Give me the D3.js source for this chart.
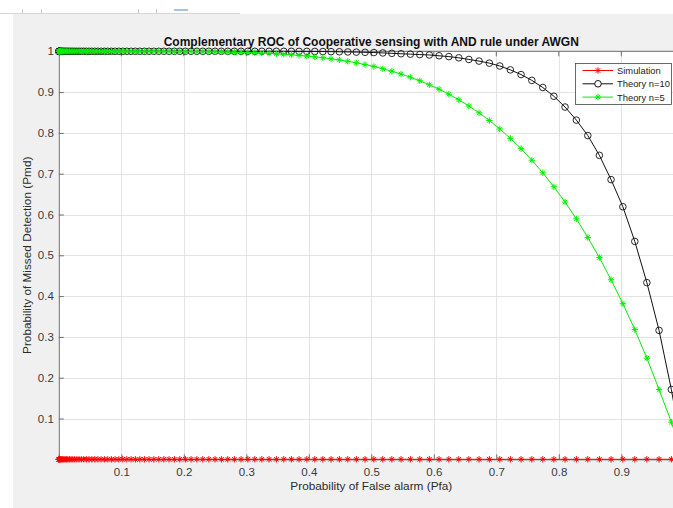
<!DOCTYPE html>
<html><head><meta charset="utf-8">
<script src="https://cdn.jsdelivr.net/npm/d3@7"></script>
<style>
html,body{margin:0;padding:0;background:#fff;overflow:hidden;}
svg{display:block;font-family:"Liberation Sans",Arial,Helvetica,sans-serif;}
</style>
</head><body>
<svg id="chart" width="673" height="508"></svg>
<script>
// ---- data ----
const pfa = [0,0.0001,0.0004,0.0009,0.0016,0.0025,0.0036,0.0049,0.0064,0.0081,
0.01,0.0121,0.0144,0.0169,0.0196,0.0225,0.0256,0.0289,0.0324,0.0361,
0.04,0.0441,0.0484,0.0529,0.0576,0.0625,0.0676,0.0729,0.0784,0.0841,
0.09,0.0961,0.1024,0.1089,0.1156,0.1225,0.1296,0.1369,0.1444,0.1521,
0.16,0.1681,0.1764,0.1849,0.1936,0.2025,0.2116,0.2209,0.2304,0.2401,
0.25,0.2601,0.2704,0.2809,0.2916,0.3025,0.3136,0.3249,0.3364,0.3481,
0.36,0.3721,0.3844,0.3969,0.4096,0.4225,0.4356,0.4489,0.4624,0.4761,
0.49,0.5041,0.5184,0.5329,0.5476,0.5625,0.5776,0.5929,0.6084,0.6241,
0.64,0.6561,0.6724,0.6889,0.7056,0.7225,0.7396,0.7569,0.7744,0.7921,
0.81,0.8281,0.8464,0.8649,0.8836,0.9025,0.9216,0.9409,0.9604,0.9801,1];

const simulation = [0,0,0,0,0,0,0,0,0,0, 0,0,0,0,0,0,0,0,0,0,
0,0,0,0,0,0,0,0,0,0, 0,0,0,0,0,0,0,0,0,0,
0,0,0,0,0,0,0,0,0,0, 0,0,0,0,0,0,0,0,0,0,
0,0,0,0,0,0,0,0,0,0, 0,0,0,0,0,0,0,0,0,0,
0,0,0,0,0,0,0,0,0,0, 0,0,0,0,0,0,0,0,0,0,0];

const theoryN10 = [1,1,1,1,1,1,1,1,1,1, 1,1,1,1,1,1,1,1,1,1,
1,1,1,1,1,1,1,1,1,1, 1,1,1,1,1,1,1,1,1,1,
1,1,1,1,1,1,1,1,1,1, 1,1,1,1,1,1,1,1,1,1,
0.9999,0.9999,0.9998,0.9998,0.9996,0.9994,0.9991,0.9988,0.9984,0.998,
0.9975,0.997,0.996,0.995,0.994,0.993,0.992,0.991,0.989,0.987,
0.984,0.980,0.976,0.971,0.964,0.9545,0.943,0.9287,0.9113,0.8898,
0.8634,0.8314,0.7935,0.7450,0.6855,0.6190,0.5340,0.4330,0.3160,0.1710,0];

const theoryN5 = [1,1,1,1,1,1,1,1,1,1, 1,1,1,1,1,1,1,1,1,1,
1,1,1,1,1,1,1,1,1,1, 1,1,1,1,1,1,1,1,1,1,
0.9999,0.9998,0.9998,0.9997,0.9997,0.9996,0.9995,0.9993,0.9992,0.999,
0.9988,0.9985,0.9982,0.9979,0.9974,0.9969,0.9963,0.9956,0.9948,0.9939,
0.9928,0.9915,0.99,0.9884,0.9864,0.9842,0.9817,0.9788,0.9755,0.9717,
0.9675,0.9627,0.9572,0.9511,0.9442,0.9365,0.9277,0.9179,0.907,0.8948,
0.8812,0.866,0.8492,0.8305,0.8095,0.7867,0.7613,0.733,0.7021,0.668,
0.6305,0.5893,0.5437,0.4944,0.4401,0.3815,0.318,0.248,0.171,0.091,0];

const xTicks = [0.1,0.2,0.3,0.4,0.5,0.6,0.7,0.8,0.9];
const yTicks = [0.1,0.2,0.3,0.4,0.5,0.6,0.7,0.8,0.9,1];
const xTickLabels = ["0.1","0.2","0.3","0.4","0.5","0.6","0.7","0.8","0.9"];
const yTickLabels = ["0.1","0.2","0.3","0.4","0.5","0.6","0.7","0.8","0.9","1"];
const seriesNames = ["Simulation","Theory n=10","Theory n=5"];
const titleText = "Complementary ROC of Cooperative sensing with AND rule under AWGN";
const xLabelText = "Probability of False alarm (Pfa)";
const yLabelText = "Probability of Missed Detection (Pmd)";

// ---- drawing ----
const svg = d3.select("#chart");
const L = 58.8, R = 683.8, T = 51.3, B = 459.3;
const x = d3.scaleLinear().domain([0,1]).range([L,R]);
const y = d3.scaleLinear().domain([0,1]).range([B,T]);

// figure background
svg.append("rect").attr("x",0).attr("y",0).attr("width",673).attr("height",508).attr("fill","#ffffff");
svg.append("rect").attr("x",13).attr("y",14).attr("width",660).attr("height",494).attr("fill","#f0f0f0");
// top toolbar remnant
svg.append("line").attr("x1",0).attr("x2",240).attr("y1",13.5).attr("y2",13.5).attr("stroke","#d6d6d6");
[22,41,138,156].forEach(v=>svg.append("line").attr("x1",v+0.5).attr("x2",v+0.5).attr("y1",9).attr("y2",13).attr("stroke","#c8c8c8"));
svg.append("rect").attr("x",174).attr("y",9).attr("width",14).attr("height",2).attr("fill","#9fc3ea");

// plot area
svg.append("rect").attr("x",L).attr("y",T).attr("width",R-L).attr("height",B-T).attr("fill","#ffffff");

// grid
const grid = svg.append("g").attr("stroke","#e3e3e3").attr("stroke-width",1);
xTicks.forEach(t=>grid.append("line").attr("x1",Math.round(x(t))+0.5).attr("x2",Math.round(x(t))+0.5).attr("y1",T).attr("y2",B));
yTicks.forEach(t=>grid.append("line").attr("x1",L).attr("x2",R).attr("y1",Math.round(y(t))+0.5).attr("y2",Math.round(y(t))+0.5));

// axes (ticks inward)
const axCol = "#6e6e6e";
const gx = svg.append("g").attr("transform",`translate(0,${B})`)
  .call(d3.axisBottom(x).tickValues(xTicks).tickFormat((d,i)=>xTickLabels[i]).tickSize(-5).tickPadding(7));
const gy = svg.append("g").attr("transform",`translate(${L},0)`)
  .call(d3.axisLeft(y).tickValues(yTicks).tickFormat((d,i)=>yTickLabels[i]).tickSize(-5).tickPadding(5));
[gx,gy].forEach(g=>{
  g.select(".domain").attr("stroke",axCol);
  g.selectAll(".tick line").attr("stroke",axCol);
  g.selectAll(".tick text").attr("fill","#3a3a3a").attr("font-size","11.5px").attr("font-family",'"Liberation Sans",Arial,sans-serif');
});
gx.selectAll(".tick text").attr("dy","0.85em");
// top border with ticks
svg.append("line").attr("x1",L).attr("x2",R).attr("y1",T).attr("y2",T).attr("stroke",axCol);
xTicks.forEach(t=>svg.append("line").attr("x1",x(t)).attr("x2",x(t)).attr("y1",T).attr("y2",T+5).attr("stroke",axCol));

// markers
function starPath(s){const d=s*0.7071;return `M${-s},0H${s}M0,${-s}V${s}M${-d},${-d}L${d},${d}M${-d},${d}L${d},${-d}`;}
const data = pfa.map((p,i)=>({p, sim:simulation[i], n10:theoryN10[i], n5:theoryN5[i]}));
const line = key => d3.line().x(d=>x(d.p)).y(d=>y(d[key]));

function drawSeries(key,color,marker){
  const g = svg.append("g");
  g.append("path").datum(data).attr("d",line(key)).attr("fill","none").attr("stroke",color).attr("stroke-width",1);
  if(marker==="star"){
    g.selectAll("path.m").data(data).enter().append("path").attr("class","m")
      .attr("d",starPath(3.2)).attr("transform",d=>`translate(${x(d.p)},${y(d[key])})`)
      .attr("stroke",color).attr("stroke-width",1).attr("fill","none");
  } else {
    g.selectAll("circle").data(data).enter().append("circle")
      .attr("cx",d=>x(d.p)).attr("cy",d=>y(d[key])).attr("r",3.3)
      .attr("stroke",color).attr("stroke-width",0.9).attr("fill","none");
  }
}
drawSeries("sim","#ff0000","star");
drawSeries("n10","#111111","circle");
drawSeries("n5","#00f000","star");

// title & labels
svg.append("text").attr("x",(L+R)/2).attr("y",46).attr("text-anchor","middle")
  .attr("font-size","12px").attr("font-weight","bold").attr("fill","#111").text(titleText);
svg.append("text").attr("x",(L+R)/2).attr("y",490).attr("text-anchor","middle")
  .attr("font-size","11.8px").attr("fill","#2a2a2a").text(xLabelText);
svg.append("text").attr("transform",`translate(31,${(T+B)/2}) rotate(-90)`).attr("text-anchor","middle")
  .attr("font-size","11.8px").attr("fill","#2a2a2a").text(yLabelText);

// legend
const lg = svg.append("g");
lg.append("rect").attr("x",575.5).attr("y",63.5).attr("width",96).attr("height",41)
  .attr("fill","#ffffff").attr("stroke","#444").attr("stroke-width",0.8);
const legendStyles = [["#ff0000","star"],["#111111","circle"],["#00f000","star"]];
seriesNames.forEach((name,i)=>{
  const yy = 70.5 + i*13.3;
  const [c,m] = legendStyles[i];
  lg.append("line").attr("x1",582.5).attr("x2",613).attr("y1",yy).attr("y2",yy).attr("stroke",c).attr("stroke-width",1);
  if(m==="star") lg.append("path").attr("d",starPath(3.2)).attr("transform",`translate(598,${yy})`).attr("stroke",c).attr("fill","none");
  else lg.append("circle").attr("cx",598).attr("cy",yy).attr("r",3.3).attr("stroke",c).attr("fill","#fff");
  lg.append("text").attr("x",617).attr("y",yy+3.4).attr("font-size","9.4px").attr("fill","#222").text(name);
});
</script>
</body></html>
